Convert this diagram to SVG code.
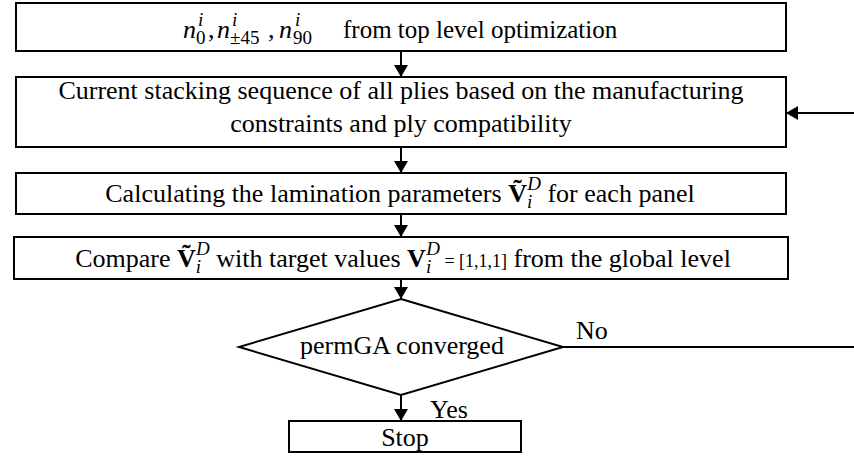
<svg xmlns="http://www.w3.org/2000/svg" width="854" height="457" viewBox="0 0 854 457">
<defs>
<marker id="ah" viewBox="0 0 12 16" refX="12" refY="8" markerWidth="12" markerHeight="16" markerUnits="userSpaceOnUse" orient="auto">
<path d="M0,1 L12,8 L0,15 Z" fill="#000"/>
</marker>
<style>
.box{fill:#fff;stroke:#000;stroke-width:2}
.t{font-family:"Liberation Serif","Times New Roman",serif;font-size:26px;fill:#000}
.c{text-anchor:middle}
.i{font-style:italic}
.b{font-weight:bold}
.s{font-size:19px}
.ln{stroke:#000;stroke-width:2;fill:none}
</style>
</defs>
<rect width="854" height="457" fill="#fff"/>
<g id="connectors">
<line class="ln" x1="401" y1="51" x2="401" y2="77" marker-end="url(#ah)"/>
<line class="ln" x1="401" y1="147" x2="401" y2="173" marker-end="url(#ah)"/>
<line class="ln" x1="401" y1="214" x2="401" y2="237" marker-end="url(#ah)"/>
<line class="ln" x1="401" y1="279" x2="401" y2="299" marker-end="url(#ah)"/>
<line class="ln" x1="401" y1="395" x2="401" y2="421" marker-end="url(#ah)"/>
<line class="ln" x1="563" y1="347" x2="854" y2="347"/>
<line class="ln" x1="854" y1="113" x2="786" y2="113" marker-end="url(#ah)"/>
<text class="t" x="576" y="339">No</text>
<text class="t" x="430" y="418">Yes</text>
</g>
<g id="n1">
<rect class="box" x="16" y="3" width="770" height="48"/>
<text class="t" y="38"><tspan class="i" x="183">n</tspan><tspan class="s" x="196" dy="6">0</tspan><tspan class="i s" x="198" dy="-18">i</tspan><tspan x="208" dy="12">,</tspan><tspan class="i" x="217">n</tspan><tspan class="s" x="230" dy="6">±45</tspan><tspan class="i s" x="232" dy="-18">i</tspan><tspan x="268" dy="12">,</tspan><tspan class="i" x="279">n</tspan><tspan class="s" x="293" dy="6">90</tspan><tspan class="i s" x="295" dy="-18">i</tspan><tspan x="343" dy="12" font-size="25">from top level optimization</tspan></text>
</g>
<g id="n2">
<rect class="box" x="16" y="77" width="770" height="70"/>
<text class="t c" x="401" y="99">Current stacking sequence of all plies based on the manufacturing</text>
<text class="t c" x="401" y="132">constraints and ply compatibility</text>
</g>
<g id="n3">
<rect class="box" x="16" y="173" width="770" height="41"/>
<text class="t c" x="400" y="202" font-size="26.5">Calculating the lamination parameters <tspan class="b">Ṽ</tspan><tspan class="i s" dy="6">i</tspan><tspan class="i s" dx="-5" dy="-18">D</tspan><tspan dy="12"> for each panel</tspan></text>
</g>
<g id="n4">
<rect class="box" x="14" y="237" width="774" height="42"/>
<text class="t c" x="403" y="267" font-size="26.5">Compare  <tspan class="b">Ṽ</tspan><tspan class="i s" dy="6">i</tspan><tspan class="i s" dx="-5" dy="-18">D</tspan><tspan dy="12"> with target values  </tspan><tspan class="b">V</tspan><tspan class="i s" dy="6">i</tspan><tspan class="i s" dx="-5" dy="-18">D</tspan><tspan font-size="18" dy="12"> = [1,1,1]</tspan><tspan> from the global level</tspan></text>
</g>
<g id="n5">
<polygon points="401,299 563,347 401,395 239,347" fill="#fff" stroke="#000" stroke-width="2"/>
<text class="t c" x="402" y="354">permGA converged</text>
</g>
<g id="n6">
<rect class="box" x="289" y="421" width="232" height="31"/>
<text class="t c" x="405" y="446">Stop</text>
</g>
</svg>
